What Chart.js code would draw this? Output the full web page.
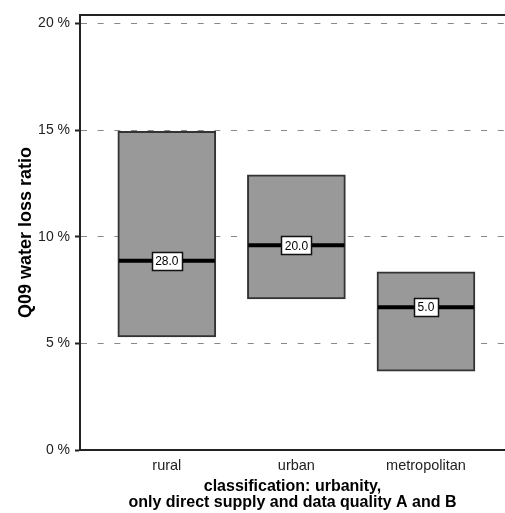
<!DOCTYPE html>
<html>
<head>
<meta charset="utf-8">
<script src="https://cdn.jsdelivr.net/npm/chart.js@4/dist/chart.umd.min.js"></script>
<style>
  html, body { margin: 0; padding: 0; background: #fff; }
  #wrap { width: 505px; height: 513px; position: relative; }
</style>
</head>
<body>
<div id="wrap"><canvas id="boxChart"></canvas></div>
<script>
// valores (percentual de perda de água)
const categories = ['rural', 'urban', 'metropolitan'];
const lowerQuartile = [5.3, 7.08, 3.7];
const upperQuartile = [14.95, 12.9, 8.36];
const medians = [8.87, 9.6, 6.7];
const sampleLabels = ['28.0', '20.0', '5.0'];
const yTickValues = [0, 5, 10, 15, 20];

const boxData = categories.map((c, i) => ({ x: i + 1, y: [lowerQuartile[i], upperQuartile[i]] }));

Chart.defaults.font.family = '"Liberation Sans", Arial, sans-serif';
Chart.defaults.color = '#222';

// linha da mediana + caixinha com o número de amostras
const medianPlugin = {
  id: 'medianLabels',
  afterDatasetsDraw(chart) {
    const { ctx } = chart;
    const xScale = chart.scales.x;
    const yScale = chart.scales.y;
    const meta = chart.getDatasetMeta(0);
    ctx.save();
    medians.forEach((m, i) => {
      const bar = meta.data[i];
      const cx = xScale.getPixelForValue(i + 1);
      const cy = yScale.getPixelForValue(m);
      const half = bar.width / 2 - 1;
      ctx.strokeStyle = '#000';
      ctx.lineWidth = 4;
      ctx.beginPath();
      ctx.moveTo(cx - half, cy);
      ctx.lineTo(cx + half, cy);
      ctx.stroke();

      ctx.font = '12px "Liberation Sans", Arial, sans-serif';
      const text = sampleLabels[i];
      const w = Math.round(ctx.measureText(text).width + 7);
      const h = 18;
      const left = Math.round(cx - w / 2) + 0.5;
      const top = Math.round(cy - h / 2) + 0.5;
      ctx.fillStyle = '#fff';
      ctx.fillRect(left, top, w, h);
      ctx.lineWidth = 1.5;
      ctx.strokeStyle = '#111';
      ctx.strokeRect(left, top, w, h);
      ctx.fillStyle = '#000';
      ctx.textAlign = 'center';
      ctx.textBaseline = 'middle';
      ctx.fillText(text, cx, cy + 1);
    });
    ctx.restore();
  }
};

new Chart(document.getElementById('boxChart'), {
  type: 'bar',
  data: {
    datasets: [{
      data: boxData,
      backgroundColor: '#999999',
      borderColor: '#333',
      borderWidth: 2,
      borderSkipped: false,
      barThickness: 98
    }]
  },
  plugins: [medianPlugin],
  options: {
    responsive: true,
    maintainAspectRatio: false,
    animation: false,
    layout: { padding: { top: 15, left: 0, right: 0, bottom: 0 } },
    plugins: {
      legend: { display: false },
      tooltip: { enabled: false }
    },
    scales: {
      x: {
        type: 'linear',
        position: 'bottom',
        offset: false,
        min: 0.33,
        max: 3.61,
        afterBuildTicks: scale => {
          scale.ticks = categories.map((c, i) => ({ value: i + 1 }));
        },
        afterFit: scale => { scale.height = 63; },
        grid: { display: false, drawTicks: false, offset: false },
        border: { display: true, color: '#222', width: 2 },
        ticks: {
          autoSkip: false,
          maxRotation: 0,
          padding: 7,
          color: '#222',
          font: { size: 14.5 },
          callback: value => categories[value - 1] || ''
        },
        title: {
          display: true,
          text: ['classification: urbanity,', 'only direct supply and data quality A and B'],
          color: '#000',
          font: { size: 16, weight: 'bold', lineHeight: 1 },
          padding: { top: 0, bottom: 2 }
        }
      },
      xTop: {
        type: 'linear',
        position: 'top',
        min: 0,
        max: 1,
        afterFit: scale => { scale.height = 0; },
        grid: { display: false, drawTicks: false },
        ticks: { display: false },
        border: { display: true, color: '#222', width: 2 }
      },
      y: {
        min: 0,
        max: 20.4,
        afterBuildTicks: scale => {
          scale.ticks = yTickValues.map(v => ({ value: v }));
        },
        afterFit: scale => { scale.width = 80; },
        grid: {
          color: '#888',
          lineWidth: 1,
          tickLength: 5,
          tickColor: '#222',
          tickWidth: 2
        },
        border: { display: true, color: '#222', width: 2, dash: [6, 10.67] },
        ticks: {
          padding: 5,
          color: '#222',
          font: { size: 14 },
          callback: value => value + ' %'
        },
        title: {
          display: true,
          text: 'Q09 water loss ratio',
          color: '#000',
          font: { size: 18, weight: 'bold', lineHeight: 1.2 },
          padding: { top: 15, bottom: 0 }
        }
      }
    }
  }
});
</script>
</body>
</html>
